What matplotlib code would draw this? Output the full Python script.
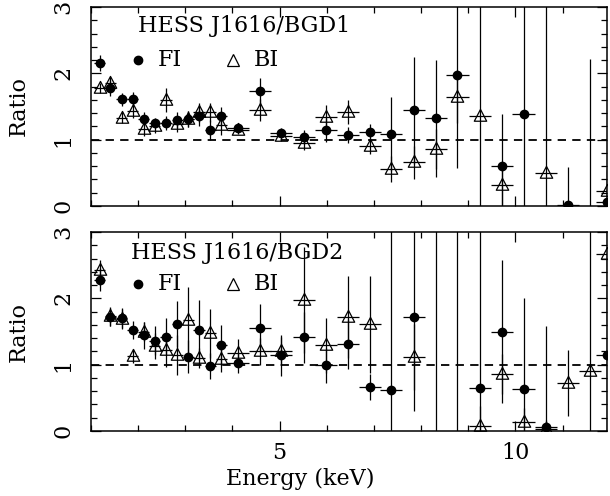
import numpy as np
import matplotlib
matplotlib.use("Agg")
import matplotlib.pyplot as plt
from matplotlib.path import Path
from matplotlib.ticker import MultipleLocator

plt.rcParams['font.family'] = ['DejaVu Serif']
plt.rcParams['lines.scale_dashes'] = False

nan = np.nan

# Bin centres (keV) and half widths
energy = [1.19, 1.41, 1.65, 1.89, 2.12, 2.35, 2.59, 2.83, 3.06, 3.29, 3.53, 3.76,
          4.12, 4.58, 5.03, 5.51, 5.98, 6.44, 6.91, 7.37, 7.84, 8.31, 8.77, 9.24,
          9.71, 10.17, 10.65, 11.12, 11.58, 11.94]
half_width = [0.117] * 12 + [0.234] * 18

# Panel 1: HESS J1616/BGD1
bgd1_fi = [2.15, 1.78, 1.61, 1.62, 1.31, 1.25, 1.25, 1.30, 1.31, 1.35, 1.15, 1.35,
           1.18, 1.73, 1.10, 1.04, 1.14, 1.07, 1.12, 1.09, 1.44, 1.32, 1.97, nan,
           0.61, 1.39, nan, 0.02, -0.40, 0.06]
bgd1_fi_err = [0.12, 0.12, 0.10, 0.10, 0.10, 0.08, 0.10, 0.12, 0.12, 0.15, 0.15, 0.15,
               0.07, 0.20, 0.08, 0.10, 0.18, 0.12, 0.12, 0.56, 0.80, 0.88, 1.40, nan,
               0.78, 2.50, nan, 0.57, 2.62, 0.50]
bgd1_bi = [1.78, 1.86, 1.33, 1.43, 1.16, 1.20, 1.60, 1.23, 1.31, 1.41, 1.41, 1.22,
           1.15, 1.45, 1.06, 0.95, 1.34, 1.42, 0.91, 0.56, 0.66, 0.86, 1.65, 1.36,
           0.32, nan, 0.50, nan, nan, 0.23]
bgd1_bi_err = [0.08, 0.08, 0.08, 0.10, 0.10, 0.10, 0.18, 0.12, 0.12, 0.15, 0.15, 0.15,
               0.07, 0.17, 0.08, 0.10, 0.18, 0.18, 0.12, 0.20, 0.25, 0.30, 0.40, 3.00,
               0.30, nan, 3.00, nan, nan, 0.30]

# Panel 2: HESS J1616/BGD2
bgd2_fi = [2.28, 1.72, 1.71, 1.52, 1.44, 1.36, 1.42, 1.61, 1.12, 1.52, 0.98, 1.30,
           1.03, 1.56, 1.14, 1.41, 0.99, 1.31, 0.66, 0.62, 1.72, 3.60, 3.60, 0.65,
           1.50, 0.64, 0.06, nan, nan, 1.14]
bgd2_fi_err = [0.17, 0.14, 0.15, 0.14, 0.20, 0.22, 0.28, 0.35, 0.25, 0.45, 0.20, 0.30,
               0.15, 0.35, 0.31, 0.38, 0.26, 0.38, 0.20, 2.60, 1.42, 4.00, 4.00, 2.60,
               1.08, 1.36, 0.10, nan, nan, 1.50]
bgd2_bi = [2.43, 1.73, 1.69, 1.13, 1.50, 1.28, 1.22, 1.15, 1.67, 1.10, 1.47, 1.09,
           1.18, 1.20, 1.21, 1.97, 1.29, 1.72, 1.61, nan, 1.12, nan, nan, 0.07,
           0.86, 0.14, 0.03, 0.72, 0.90, 2.67]
bgd2_bi_err = [0.15, 0.14, 0.15, 0.10, 0.15, 0.20, 0.25, 0.30, 0.50, 0.15, 0.37, 0.20,
               0.20, 0.20, 0.20, 0.80, 0.42, 0.62, 0.73, nan, 0.50, nan, nan, 0.30,
               0.30, 0.20, 1.56, 0.50, 2.50, 1.00]

panels = [("HESS J1616/BGD1", bgd1_fi, bgd1_fi_err, bgd1_bi, bgd1_bi_err, 2.0, 2.71, 2.2),
          ("HESS J1616/BGD2", bgd2_fi, bgd2_fi_err, bgd2_bi, bgd2_bi_err, 1.84, 2.69, 2.21)]

tri = Path([(0, 1.2), (-1.05, -0.8), (1.05, -0.8), (0, 1.2)],
           [Path.MOVETO, Path.LINETO, Path.LINETO, Path.CLOSEPOLY])

W, H = 610, 496
fig = plt.figure(figsize=(6.10, 4.96), dpi=100)
left = 91 / W
width = (607 - 91) / W
boxes = [(1 - 206 / H, (206 - 7) / H), (1 - 431 / H, (431 - 232) / H)]

fs = 16
for i, (title, fi, fie, bi, bie, tx, ty, ly) in enumerate(panels):
    b, h = boxes[i]
    ax = fig.add_axes([left, b, width, h])
    ax.set_xlim(1.0, 11.94)
    ax.set_ylim(0, 3)
    ax.axhline(1.0, color='k', lw=1.3, ls=(0, (6, 4.5)), zorder=1)
    ax.errorbar(energy, bi, yerr=bie, xerr=half_width, fmt='none',
                ecolor='k', elinewidth=0.9, capsize=0, zorder=2)
    ax.plot(energy, bi, ls='none', marker=tri, ms=10.2, mfc='none', mec='k',
            mew=0.9, zorder=3)
    ax.errorbar(energy, fi, yerr=fie, xerr=half_width, fmt='o', ms=6,
                color='k', ecolor='k', elinewidth=0.9, capsize=0, zorder=4)

    ax.text(tx, ty, title, fontsize=fs, ha='left', va='center')
    ax.plot([2.0], [ly], marker='o', ms=6, color='k', ls='none')
    ax.text(2.42, ly, "FI", fontsize=fs, ha='left', va='center')
    ax.plot([4.02], [ly], marker='^', ms=9, mfc='none', mec='k', mew=0.9, ls='none')
    ax.text(4.45, ly, "BI", fontsize=fs, ha='left', va='center')

    ax.xaxis.set_major_locator(MultipleLocator(5))
    ax.xaxis.set_minor_locator(MultipleLocator(1))
    ax.yaxis.set_major_locator(MultipleLocator(1))
    ax.yaxis.set_minor_locator(MultipleLocator(0.2))
    ax.tick_params(which='both', direction='in', top=True, right=True,
                   width=0.9, labelsize=fs)
    ax.tick_params(which='major', length=7.2)
    ax.tick_params(which='minor', length=4.0)
    ax.tick_params(axis='x', pad=8)
    ax.tick_params(axis='y', pad=12)
    for s in ax.spines.values():
        s.set_linewidth(1.1)
    ax.set_yticks([0, 1, 2, 3])
    ax.set_yticklabels(['0', '1', '2', '3'], rotation=90, va='center', ha='right')
    ax.set_ylabel("Ratio", fontsize=fs, va='center')
    ax.yaxis.set_label_coords((18.5 - 91) / 516, 0.5)
    if i == 0:
        ax.tick_params(axis='x', labelbottom=False)
    else:
        ax.set_xlabel("Energy (keV)", fontsize=fs, va='top')
        ax.xaxis.set_label_coords((300 - 91) / 516, (431 - 468) / 199)

fig.savefig("out.png", dpi=100)
